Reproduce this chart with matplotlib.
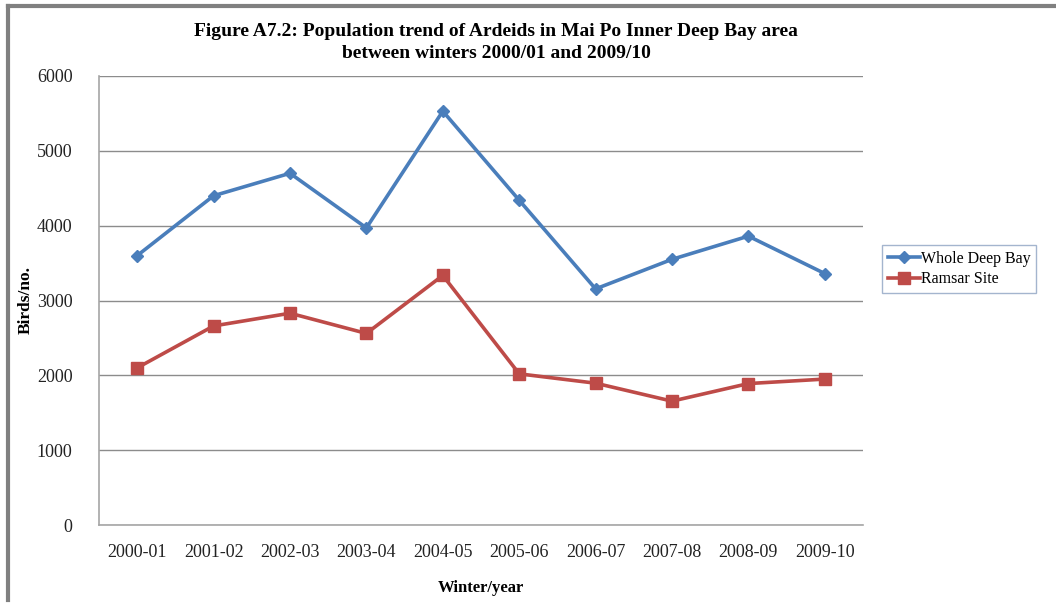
import numpy as np
import matplotlib.pyplot as plt
from matplotlib.lines import Line2D

# data
winters = ['2000-01', '2001-02', '2002-03', '2003-04', '2004-05',
           '2005-06', '2006-07', '2007-08', '2008-09', '2009-10']
whole_deep_bay = [3600, 4400, 4700, 3970, 5530, 4340, 3155, 3550, 3860, 3360]
ramsar_site = [2100, 2660, 2830, 2560, 3335, 2020, 1895, 1655, 1890, 1950]

plt.rcParams['font.family'] = ['Liberation Serif', 'DejaVu Serif']

W, H = 1056, 603
fig = plt.figure(figsize=(W / 100, H / 100), dpi=100)
ax = fig.add_axes([99 / W, 1 - 525 / H, (863 - 99) / W, (525 - 76) / H])

x = np.arange(len(winters))
ax.plot(x, whole_deep_bay, color='#4a7ebb', lw=2.6, marker='D', ms=6,
        label='Whole Deep Bay')
ax.plot(x, ramsar_site, color='#be4b48', lw=2.6, marker='s', ms=8,
        label='Ramsar Site')

ax.set_xlim(-0.5, len(winters) - 0.5)
ax.set_ylim(0, 6000)
ax.set_yticks(np.arange(0, 6001, 1000))
ax.set_xticks(x)
ax.set_xticklabels(winters)
ax.tick_params(length=0, labelsize=13, colors='#222222')
ax.tick_params(axis='y', pad=19)
ax.tick_params(axis='x', pad=14)
ax.grid(axis='y', color='#8c8c8c', lw=1)
ax.set_axisbelow(True)
for s in ['top', 'right']:
    ax.spines[s].set_visible(False)
for s in ['left', 'bottom']:
    ax.spines[s].set_color('#a6a6a6')
    ax.spines[s].set_linewidth(1.2)

ax.set_xlabel('Winter/year', fontsize=12, fontweight='bold', labelpad=13)
ax.set_ylabel('Birds/no.', fontsize=12.5, fontweight='bold', labelpad=2)

fig.text(0.47, 1 - 31 / H, 'Figure A7.2: Population trend of Ardeids in Mai Po Inner Deep Bay area',
         ha='center', va='center', fontsize=14, fontweight='bold')
fig.text(0.47, 1 - 53 / H, 'between winters 2000/01 and 2009/10',
         ha='center', va='center', fontsize=14, fontweight='bold')

leg = ax.legend(loc='center left', bbox_to_anchor=(1.025, 0.57), fontsize=11.5,
                frameon=True, fancybox=False, borderpad=0.35, handlelength=2.0,
                handletextpad=0.1, labelspacing=0.3, borderaxespad=0)
leg.get_frame().set_edgecolor('#8ea3c2')
leg.get_frame().set_linewidth(1)

# gray frame on the left and top
fig.add_artist(Line2D([8 / W, 8 / W], [1 - 6 / H, 1 - 600 / H], color='#808080', lw=3))
fig.add_artist(Line2D([8 / W, 1], [1 - 6 / H, 1 - 6 / H], color='#808080', lw=3))

fig.savefig('out.png', dpi=100)
